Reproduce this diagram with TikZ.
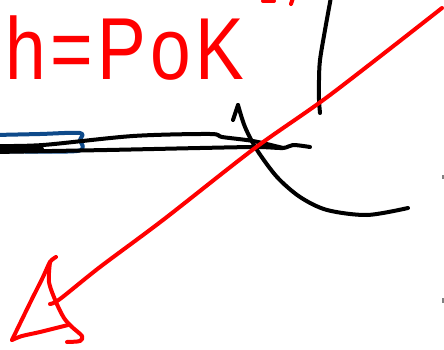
\documentclass[tikz,border=0pt]{standalone}
\usepackage{graphicx}
\usepackage{fontspec}
\setmainfont{Liberation Sans}
\definecolor{penred}{RGB}{255,0,0}
\definecolor{penblue}{RGB}{14,74,138}
\begin{document}
\begin{tikzpicture}[x=1pt,y=-1pt,
    pen/.style={line width=4pt, line cap=round, line join=round},
    redpen/.style={pen, draw=penred},
    blackpen/.style={pen, draw=black},
    bluepen/.style={pen, draw=penblue}]
  \useasboundingbox (0,0) rectangle (444,350);
  \node[anchor=base west, inner sep=0pt, text=penred,
        font=\fontsize{88}{88}\selectfont\addfontfeature{LetterSpace=6}] (formula) at (5,80)
    {\scalebox{0.83}[1]{h=PoK}};
  \draw[redpen] (263,1) -- (274,1) (291,4) -- (293,-2);
  \draw[bluepen] plot[smooth] coordinates
    {(-5,135) (40,134) (80,133) (80,140) (77,151) (-5,151)};
  \draw[blackpen, line width=8pt] (-5,149) -- (40,149);
  \draw[blackpen] plot[smooth] coordinates
    {(-5,146) (43,145) (133,136) (210,134) (222,137) (253,141) (283,148)};
  \draw[blackpen] plot[smooth] coordinates
    {(-5,152) (107,150) (200,148) (257,147) (283,148) (293,145) (310,147)};
  \draw[blackpen] plot[smooth] coordinates
    {(331,-3) (325,30) (320,60) (319,80) (319,100) (320,113)};
  \draw[blackpen] plot[smooth] coordinates
    {(238,105) (245,127) (257,150) (277,177) (300,197) (327,210) (367,215) (408,208)};
  \draw[blackpen] (233,120) -- (238,105);
  \draw[redpen] plot[smooth] coordinates
    {(442,8) (330,95) (255,148) (163,220) (100,267) (60,299) (50,304)};
  \draw[redpen] plot[smooth] coordinates
    {(56,257) (50,262) (43,277) (30,303) (12,340)};
  \draw[redpen] plot[smooth] coordinates
    {(12,340) (22,336) (40,332) (68,325)};
  \draw[redpen] plot[smooth] coordinates
    {(50,262) (49,282) (56,302) (64,318) (72,327) (82,336) (80,341) (67,342)};
  \draw[gray, line width=1.5pt] (443,175) -- (443,179) (443,298) -- (443,303);
\end{tikzpicture}
\end{document}
